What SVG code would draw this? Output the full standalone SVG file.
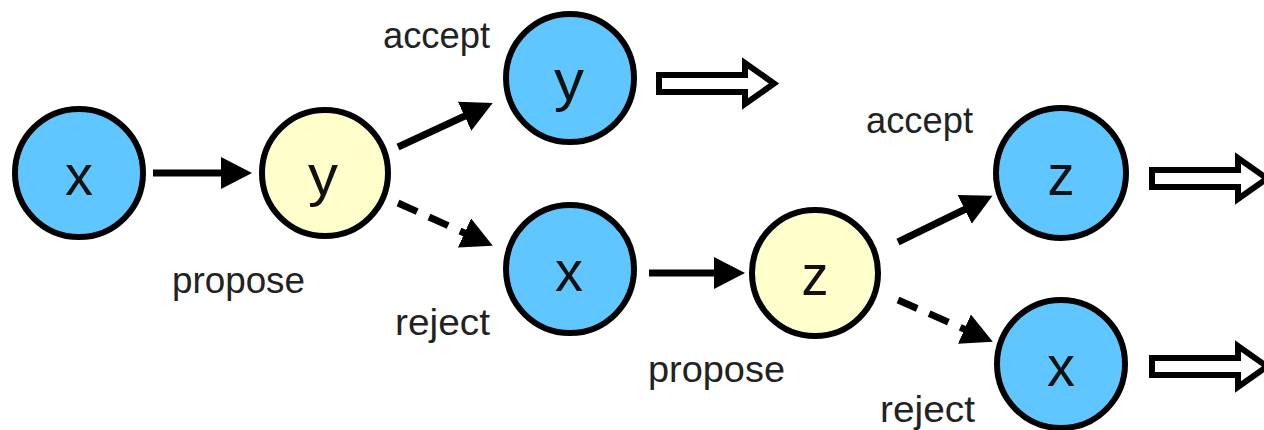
<svg xmlns="http://www.w3.org/2000/svg" width="1264" height="430" viewBox="0 0 1264 430">
<style>
.blue{fill:#5fc6ff;stroke:#000;stroke-width:6}
.yel{fill:#ffffcc;stroke:#000;stroke-width:6}
.let{font-family:"Liberation Sans",Arial,sans-serif;font-size:58px;fill:#111;text-anchor:middle}
.lab{font-family:"Liberation Sans",Arial,sans-serif;font-size:37px;fill:#222}
.con{fill:none;stroke:#000;stroke-width:7}
.dash{stroke-dasharray:21 13}
.hollow{fill:#fff;stroke:#000;stroke-width:6;stroke-linejoin:miter}
</style>
<defs>
<marker id="ah" markerUnits="userSpaceOnUse" markerWidth="34" markerHeight="34" refX="17" refY="16" orient="auto">
<path d="M0,0 L31,16 L0,32 Z" fill="#000"/>
</marker>
<path id="hollowArrow" d="M3,-8.5 H89 V-20.5 L118,0 L89,20.5 V8.5 H3 Z"/>
</defs>
<rect width="1264" height="430" fill="#fff"/>
<g id="connectors">
<path class="con" d="M153,173 L238,173" marker-end="url(#ah)"/>
<path class="con" d="M398,147 L480,109" marker-end="url(#ah)"/>
<path class="con dash" d="M398,203 L480,240" marker-end="url(#ah)"/>
<path class="con" d="M649,273 L731,273" marker-end="url(#ah)"/>
<path class="con" d="M898,242 L980,202" marker-end="url(#ah)"/>
<path class="con dash" d="M898,300 L980,336" marker-end="url(#ah)"/>
<use href="#hollowArrow" class="hollow" x="656" y="83.5"/>
<use href="#hollowArrow" class="hollow" x="1149" y="178.5"/>
<use href="#hollowArrow" class="hollow" x="1149" y="366.5"/>
</g>
<g id="node-x1"><circle class="blue" cx="79" cy="173" r="64"/><text class="let" x="79" y="195" textLength="28" lengthAdjust="spacingAndGlyphs">x</text></g>
<g id="node-y-proposed"><circle class="yel" cx="325" cy="173" r="63"/><text class="let" x="323" y="195" textLength="30" lengthAdjust="spacingAndGlyphs">y</text></g>
<g id="node-y-accepted"><circle class="blue" cx="570" cy="78" r="64"/><text class="let" x="569" y="100" textLength="30" lengthAdjust="spacingAndGlyphs">y</text></g>
<g id="node-x-rejected"><circle class="blue" cx="570" cy="269" r="64"/><text class="let" x="569" y="291" textLength="28" lengthAdjust="spacingAndGlyphs">x</text></g>
<g id="node-z-proposed"><circle class="yel" cx="815" cy="273" r="63"/><text class="let" x="815" y="295" textLength="27" lengthAdjust="spacingAndGlyphs">z</text></g>
<g id="node-z-accepted"><circle class="blue" cx="1061" cy="173" r="65"/><text class="let" x="1061" y="195" textLength="27" lengthAdjust="spacingAndGlyphs">z</text></g>
<g id="node-x-rejected2"><circle class="blue" cx="1061" cy="364" r="64"/><text class="let" x="1061" y="386" textLength="28" lengthAdjust="spacingAndGlyphs">x</text></g>
<g id="labels">
<text class="lab" x="383" y="48" textLength="107" lengthAdjust="spacingAndGlyphs">accept</text>
<text class="lab" x="172" y="293" textLength="133" lengthAdjust="spacingAndGlyphs">propose</text>
<text class="lab" x="395" y="335" textLength="95" lengthAdjust="spacingAndGlyphs">reject</text>
<text class="lab" x="648" y="382" textLength="137" lengthAdjust="spacingAndGlyphs">propose</text>
<text class="lab" x="866" y="133" textLength="107" lengthAdjust="spacingAndGlyphs">accept</text>
<text class="lab" x="880" y="422" textLength="95" lengthAdjust="spacingAndGlyphs">reject</text>
</g>
</svg>
